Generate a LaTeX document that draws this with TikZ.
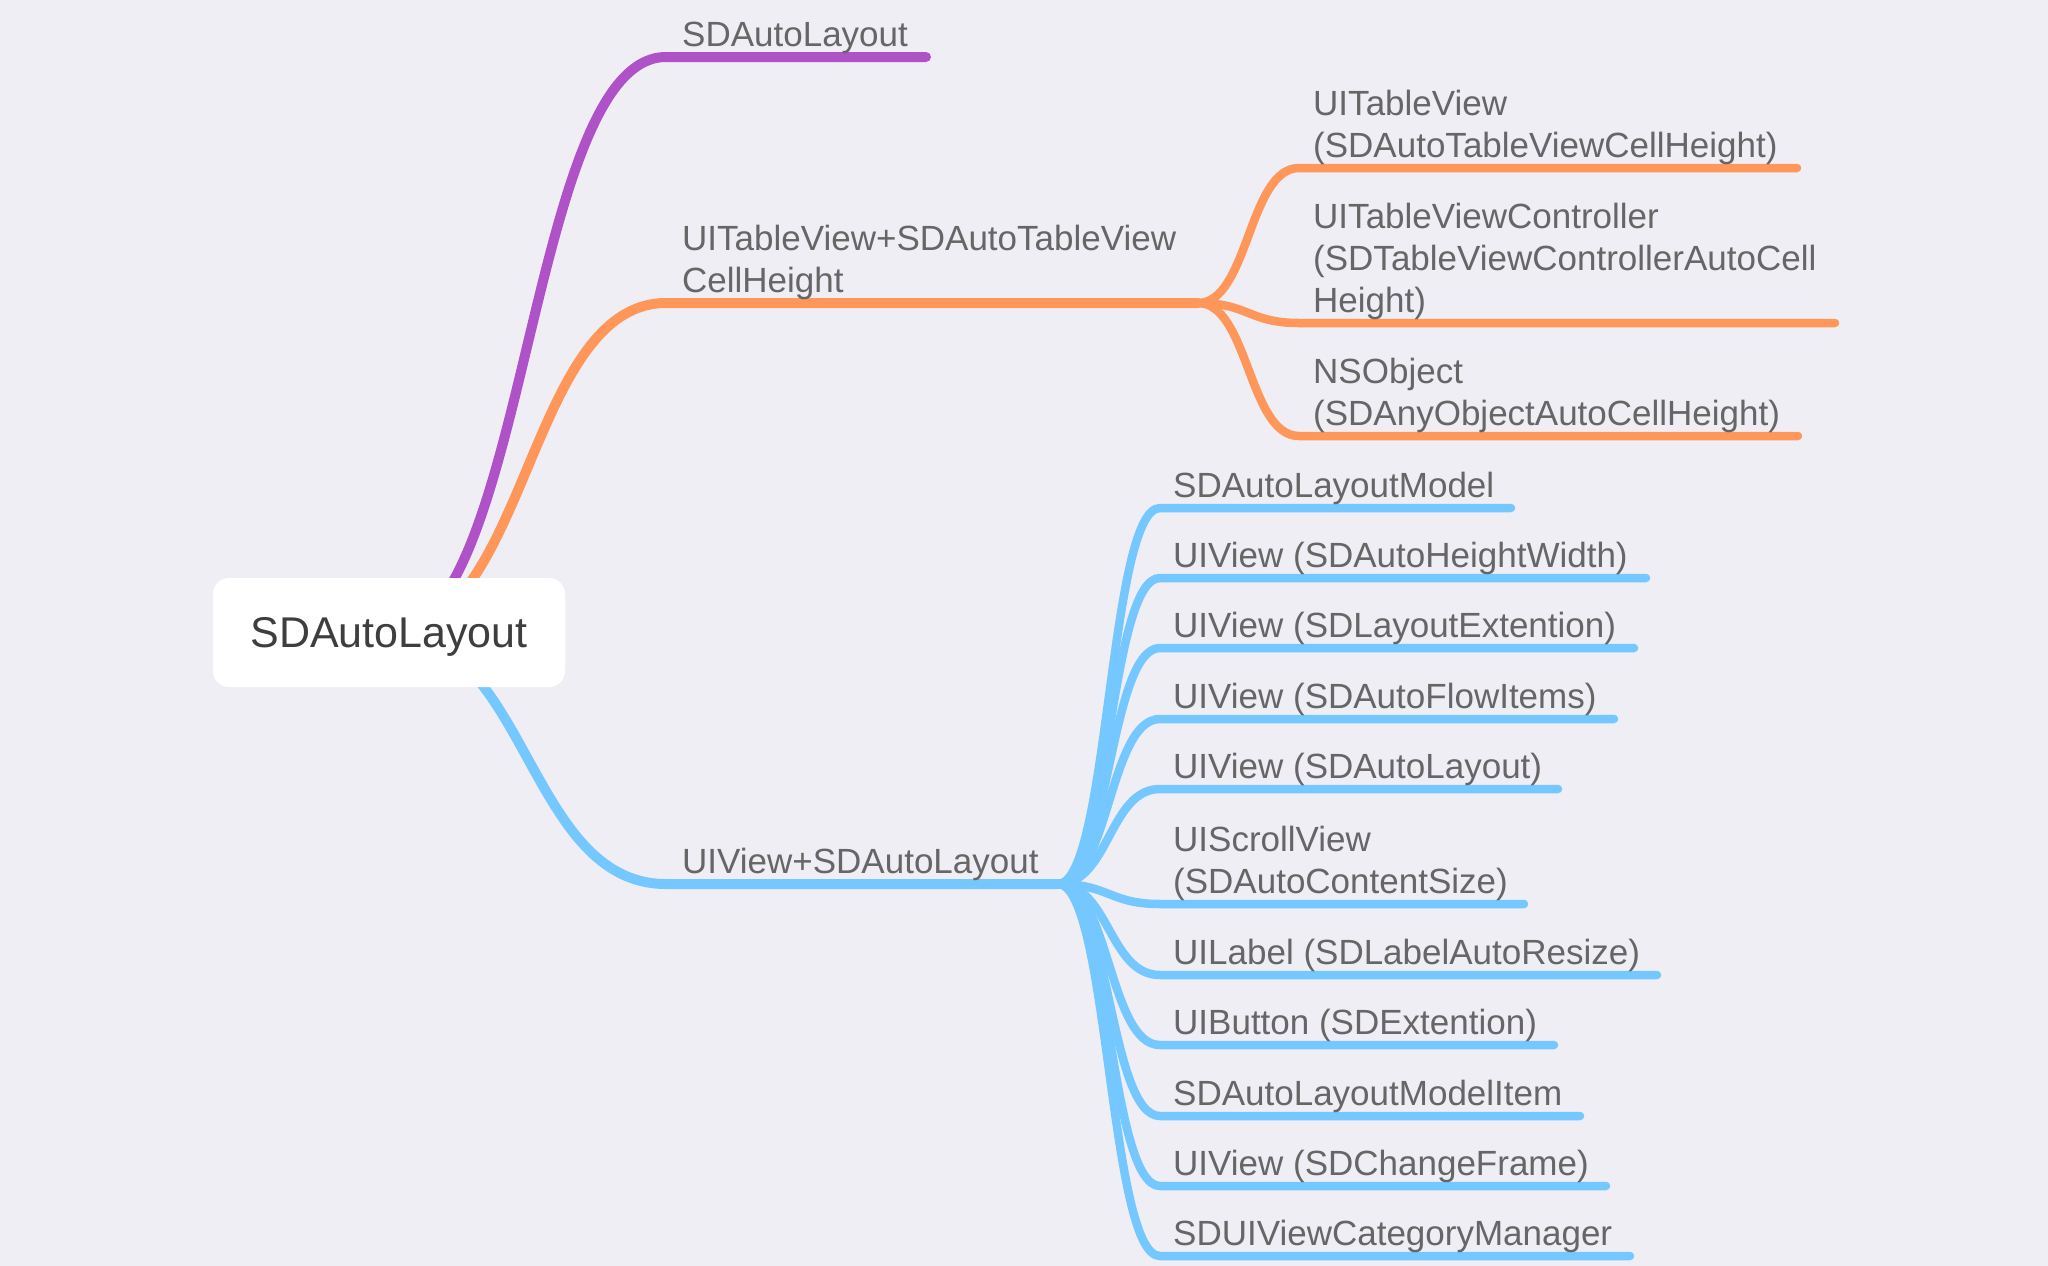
\documentclass[tikz,border=0pt]{standalone}
\usepackage{fontspec}
\setmainfont{Liberation Sans}
\usetikzlibrary{calc}
\definecolor{bgc}{HTML}{EFEEF5}
\definecolor{purp}{HTML}{AF52C8}
\definecolor{oran}{HTML}{FF975A}
\definecolor{blu}{HTML}{75C8FF}
\definecolor{txt}{HTML}{666666}
\definecolor{roottxt}{HTML}{3E3E3E}
\pgfdeclarelayer{back}
\pgfsetlayers{back,main}
\newcommand\lbldepth{\rule[-9pt]{0pt}{9pt}}
\newcommand\curvelink[4]{\draw[#1] let \p1=(#2), \p2=(#3) in (\p1) .. controls ({0.5*\x1+0.5*\x2},\y1) and ({0.5*\x1+0.5*\x2},\y2) .. (\p2) -- (#4);}
\begin{document}
\begin{tikzpicture}[x=1pt,y=-1pt,
  mainlink/.style={line width=10pt,line cap=round,line join=round},
  sublink/.style={line width=8.5pt,line cap=round,line join=round},
  lbl/.style={font=\fontsize{35}{42}\selectfont,text=txt,inner sep=0pt,align=left,anchor=south west},
  rootbox/.style={fill=white,rounded corners=16pt,minimum width=352pt,minimum height=109pt,inner sep=0pt,text depth=0pt,font=\fontsize{43}{50}\selectfont,text=roottxt}]
\begin{pgfonlayer}{back}
\fill[bgc] (0,0) rectangle (2048,1266);
\end{pgfonlayer}
\useasboundingbox (0,0) rectangle (2048,1266);

\node[rootbox] (root) at (389,632.5) {SDAutoLayout};

% main branch points
\coordinate (s1) at (666,57);   \coordinate (e1) at (926,57);
\coordinate (s2) at (666,303);  \coordinate (e2) at (1198,303);
\coordinate (s3) at (666,884);  \coordinate (e3) at (1058,884);

% orange children
\coordinate (os1) at (1299,168); \coordinate (oe1) at (1797,168);
\coordinate (os2) at (1299,323); \coordinate (oe2) at (1835,323);
\coordinate (os3) at (1299,436); \coordinate (oe3) at (1798,436);

% blue children
\coordinate (bs1) at (1160,508);  \coordinate (be1) at (1511,508);
\coordinate (bs2) at (1160,578);  \coordinate (be2) at (1646,578);
\coordinate (bs3) at (1160,648);  \coordinate (be3) at (1634,648);
\coordinate (bs4) at (1160,719);  \coordinate (be4) at (1614,719);
\coordinate (bs5) at (1160,789);  \coordinate (be5) at (1558,789);
\coordinate (bs6) at (1160,904);  \coordinate (be6) at (1524,904);
\coordinate (bs7) at (1160,975);  \coordinate (be7) at (1657,975);
\coordinate (bs8) at (1160,1045); \coordinate (be8) at (1554,1045);
\coordinate (bs9) at (1160,1116); \coordinate (be9) at (1580,1116);
\coordinate (bs10) at (1160,1186); \coordinate (be10) at (1606,1186);
\coordinate (bs11) at (1160,1256); \coordinate (be11) at (1630,1256);

\begin{pgfonlayer}{back}
\curvelink{mainlink,purp}{root.center}{s1}{e1}
\curvelink{mainlink,oran}{root.center}{s2}{e2}
\curvelink{mainlink,blu}{root.center}{s3}{e3}
\foreach \i in {1,2,3}{\curvelink{sublink,oran}{e2}{os\i}{oe\i}}
\foreach \i in {1,...,11}{\curvelink{sublink,blu}{e3}{bs\i}{be\i}}
\end{pgfonlayer}

% labels
\node[lbl] (l1) at ($(s1)+(16,-1)$) {SDAutoLayout\lbldepth};
\node[lbl] (l2) at ($(s2)+(16,-1)$) {UITableView+SDAutoTableView\\CellHeight\lbldepth};
\node[lbl] (l3) at ($(s3)+(16,-1)$) {UIView+SDAutoLayout\lbldepth};

\node[lbl] (ol1) at ($(os1)+(14,-1)$) {UITableView\\(SDAutoTableViewCellHeight)\lbldepth};
\node[lbl] (ol2) at ($(os2)+(14,-1)$) {UITableViewController\\(SDTableViewControllerAutoCell\\Height)\lbldepth};
\node[lbl] (ol3) at ($(os3)+(14,-1)$) {NSObject\\(SDAnyObjectAutoCellHeight)\lbldepth};

\node[lbl] (bl1) at ($(bs1)+(13,-1)$) {SDAutoLayoutModel\lbldepth};
\node[lbl] (bl2) at ($(bs2)+(13,-1)$) {UIView (SDAutoHeightWidth)\lbldepth};
\node[lbl] (bl3) at ($(bs3)+(13,-1)$) {UIView (SDLayoutExtention)\lbldepth};
\node[lbl] (bl4) at ($(bs4)+(13,-1)$) {UIView (SDAutoFlowItems)\lbldepth};
\node[lbl] (bl5) at ($(bs5)+(13,-1)$) {UIView (SDAutoLayout)\lbldepth};
\node[lbl] (bl6) at ($(bs6)+(13,-1)$) {UIScrollView\\(SDAutoContentSize)\lbldepth};
\node[lbl] (bl7) at ($(bs7)+(13,-1)$) {UILabel (SDLabelAutoResize)\lbldepth};
\node[lbl] (bl8) at ($(bs8)+(13,-1)$) {UIButton (SDExtention)\lbldepth};
\node[lbl] (bl9) at ($(bs9)+(13,-1)$) {SDAutoLayoutModelItem\lbldepth};
\node[lbl] (bl10) at ($(bs10)+(13,-1)$) {UIView (SDChangeFrame)\lbldepth};
\node[lbl] (bl11) at ($(bs11)+(13,-1)$) {SDUIViewCategoryManager\lbldepth};
\end{tikzpicture}
\end{document}
